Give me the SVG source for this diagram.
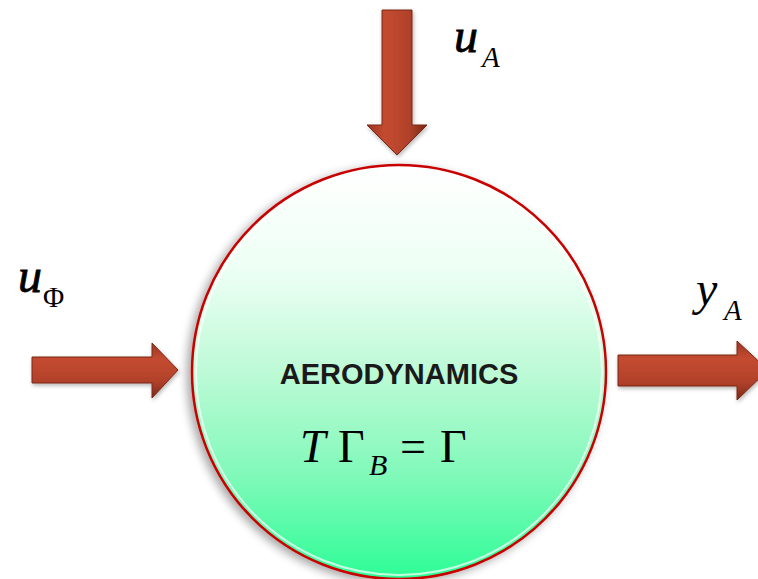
<svg xmlns="http://www.w3.org/2000/svg" width="758" height="579" viewBox="0 0 758 579">
  <defs>
    <linearGradient id="ballFill" x1="0" y1="0" x2="0" y2="1">
      <stop offset="0" stop-color="#ffffff"/>
      <stop offset="0.25" stop-color="#eefff5"/>
      <stop offset="0.5" stop-color="#bdfad6"/>
      <stop offset="0.75" stop-color="#80f9b9"/>
      <stop offset="1" stop-color="#2dfd96"/>
    </linearGradient>
    <linearGradient id="arrowH" x1="0" y1="0" x2="0" y2="1">
      <stop offset="0" stop-color="#9a3522"/>
      <stop offset="0.3" stop-color="#c44b30"/>
      <stop offset="0.7" stop-color="#b1412a"/>
      <stop offset="1" stop-color="#7a2818"/>
    </linearGradient>
    <linearGradient id="arrowV" x1="0" y1="0" x2="1" y2="0">
      <stop offset="0" stop-color="#9a3522"/>
      <stop offset="0.3" stop-color="#c44b30"/>
      <stop offset="0.7" stop-color="#b1412a"/>
      <stop offset="1" stop-color="#7a2818"/>
    </linearGradient>
    <filter id="shadow" x="-20%" y="-20%" width="140%" height="140%">
      <feGaussianBlur in="SourceAlpha" stdDeviation="5"/>
      <feOffset dx="-4" dy="3" result="b"/>
      <feComponentTransfer><feFuncA type="linear" slope="0.35"/></feComponentTransfer>
      <feMerge><feMergeNode/><feMergeNode in="SourceGraphic"/></feMerge>
    </filter>
    <filter id="ashadow" x="-20%" y="-20%" width="140%" height="140%">
      <feGaussianBlur in="SourceAlpha" stdDeviation="2"/>
      <feOffset dx="1" dy="2" result="b"/>
      <feComponentTransfer><feFuncA type="linear" slope="0.3"/></feComponentTransfer>
      <feMerge><feMergeNode/><feMergeNode in="SourceGraphic"/></feMerge>
    </filter>
  </defs>
  <style>
    .lbl { font-family: "Liberation Serif", "Times New Roman", serif; font-style: italic; fill: #000; }
    .big { stroke: #000; stroke-width: 0.8; }
    .eq { font-family: "Liberation Serif", "Times New Roman", serif; fill: #000; }
    .title { font-family: "Liberation Sans", Arial, sans-serif; font-weight: bold; font-size: 29px; fill: #1a1a1a; }
    .arrow { stroke: #7a2818; stroke-width: 1; filter: url(#ashadow); }
  </style>
  <rect width="758" height="579" fill="#ffffff"/>

  <g id="connectors">
    <polygon class="arrow" fill="url(#arrowV)" points="382,10 412,10 412,125 427,125 397,155 367,125 382,125"/>
    <polygon class="arrow" fill="url(#arrowH)" points="32,357 152,357 152,343 178,370 152,398 152,383 32,383"/>
    <polygon class="arrow" fill="url(#arrowH)" points="618,355 737,355 737,341 768,370 737,400 737,386 618,386"/>
  </g>

  <g id="aerodynamics">
    <circle cx="399" cy="372" r="207" fill="url(#ballFill)" stroke="#c80000" stroke-width="2.5" filter="url(#shadow)"/>
    <circle cx="399" cy="372" r="203" fill="none" stroke="#ffffff" stroke-width="2" opacity="0.7"/>
    <text class="title" x="399" y="384" text-anchor="middle">AERODYNAMICS</text>
    <text class="eq" x="300" y="462" font-size="46" font-style="italic">T</text>
    <text class="eq" x="338" y="462" font-size="46">Γ</text>
    <text class="eq" x="369" y="475" font-size="30" font-style="italic">B</text>
    <text class="eq" x="400" y="462" font-size="46">=</text>
    <text class="eq" x="440" y="462" font-size="46">Γ</text>
  </g>

  <g id="label-uA">
    <text class="lbl big" x="454" y="52" font-size="48">u</text>
    <text class="lbl" x="482" y="67" font-size="29">A</text>
  </g>
  <g id="label-uPhi">
    <text class="lbl big" x="18" y="292" font-size="48">u</text>
    <text class="eq" x="43" y="307" font-size="29">Φ</text>
  </g>
  <g id="label-yA">
    <text class="lbl" x="696" y="305" font-size="48">y</text>
    <text class="lbl" x="724" y="320" font-size="29">A</text>
  </g>
</svg>
